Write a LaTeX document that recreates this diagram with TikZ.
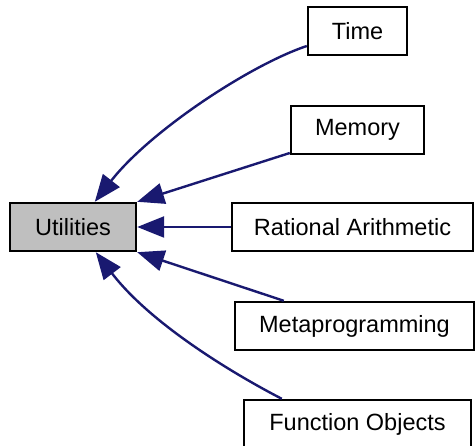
\documentclass[tikz,border=0pt]{standalone}
\usepackage{fontspec}
\setmainfont{Liberation Sans}
\usetikzlibrary{arrows.meta}
\definecolor{edgeblue}{HTML}{191970}
\definecolor{boxgray}{HTML}{BFBFBF}
\begin{document}
\begin{tikzpicture}[x=1pt,y=-1pt,
  box/.style={draw=black,line width=2.4pt,fill=white,inner sep=0pt,font=\fontsize{23.5}{28}\selectfont,minimum height=48pt},
  edge/.style={draw=edgeblue,line width=2.4pt,-{Triangle[length=27pt,width=21pt]}}]
\useasboundingbox (0,0) rectangle (475,446);
\node[box,fill=boxgray,minimum width=126pt] (util) at (73,227) {Utilities};
\node[box,minimum width=99pt] (time) at (357.5,31) {Time};
\node[box,minimum width=133pt] (mem) at (357.5,130) {Memory};
\node[box,minimum width=241pt] (rat) at (352.5,227) {Rational Arithmetic};
\node[box,minimum width=239pt] (meta) at (354.5,326) {Metaprogramming};
\node[box,minimum width=227pt] (func) at (357.5,424) {Function Objects};
\coordinate (tS) at ([yshift=-15pt]time.west);
\coordinate (tE) at ([xshift=86pt]util.north west);
\coordinate (mS) at ([yshift=-23pt]mem.west);
\coordinate (fS) at ([xshift=39pt]func.north west);
\coordinate (fE) at ([xshift=87pt]util.south west);
\coordinate (xS) at ([xshift=50pt]meta.north west);
\draw[edge] (tS) .. controls (250,65) and (150,131) .. (tE);
\draw[edge] (mS) -- (util.north east);
\draw[edge] (rat) -- (util);
\draw[edge] (xS) -- (util.south east);
\draw[edge] (fS) .. controls (230,372) and (150,323) .. (fE);
\end{tikzpicture}
\end{document}
